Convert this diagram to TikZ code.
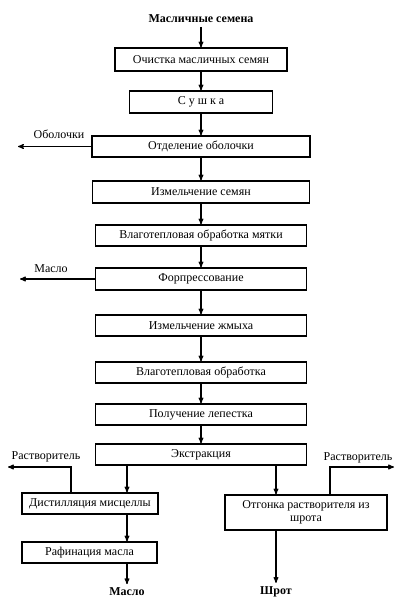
\documentclass[tikz,border=0pt]{standalone}
\usepackage{fontspec}
\setmainfont{Liberation Serif}
\usetikzlibrary{arrows}
\newcommand\W{211pt}

\begin{document}
\begin{tikzpicture}[x=1pt,y=-1pt,->,>=stealth',line width=1.1pt,
                    font=\fontsize{12}{13}\selectfont]

  \tikzstyle{procbox}=[rectangle,draw,-,align=center,inner sep=2pt,
                       minimum width=\W,minimum height=21pt]
  \tikzstyle{endlabel}=[font=\fontsize{12}{13}\selectfont\bfseries]

  \useasboundingbox (0,0) rectangle (409,600);

  \node[endlabel] (seeds) at (201,19) {Масличные семена};
  \node[procbox,minimum width=172pt,minimum height=23pt] (clean) at (201,59.5) {Очистка масличных семян};
  \node[procbox,minimum width=143pt,minimum height=22pt] (dry) at (201,102) {С у ш к а};
  \node[procbox,minimum width=218pt] (hull) at (201,146.5) {Отделение оболочки};
  \node[procbox,minimum width=217pt,minimum height=22pt] (mill) at (201,192) {Измельчение семян};
  \node[procbox] (cond) at (201,235.5) {Влаготепловая обработка мятки};
  \node[procbox,minimum height=22pt] (press) at (201,279) {Форпрессование};
  \node[procbox] (cake) at (201,325.5) {Измельчение жмыха};
  \node[procbox] (cond2) at (201,372.5) {Влаготепловая обработка};
  \node[procbox] (flake) at (201,414.5) {Получение лепестка};
  \node[procbox] (extr) at (201,454.5) {Экстракция};

  \node[procbox,minimum width=136pt] (dist) at (90,503.5) {Дистилляция мисцеллы};
  \node[procbox,minimum width=135pt] (refine) at (89.5,552.5) {Рафинация масла};
  \node[procbox,minimum width=162pt,minimum height=35pt,inner sep=1pt] (strip) at (306,512.5) {Отгонка растворителя из\\шрота};

  \node[endlabel] (oil) at (127,592) {Масло};
  \node[endlabel] (meal) at (276,592) {Шрот};

  \node (hullout) at (59,134) {Оболочки};
  \node (pressoil) at (51,269) {Масло};
  \node (solvL) at (46,457) {Растворитель};
  \node (solvR) at (358,458) {Растворитель};

  \coordinate (hullend) at (18,0);
  \coordinate (oilend) at (20,0);
  \coordinate (oilx) at (127,0);
  \coordinate (mealx) at (276,0);
  \coordinate (vapL) at (71,467);
  \coordinate (vapR) at (330,467);
  \coordinate (solvLend) at (8,0);
  \coordinate (solvRend) at (394,0);

  \path
  (seeds) edge (clean)
  (clean) edge (dry)
  (dry)   edge (hull)
  (hull)  edge (mill)
  (mill)  edge (cond)
  (cond)  edge (press)
  (press) edge (cake)
  (cake)  edge (cond2)
  (cond2) edge (flake)
  (flake) edge (extr)
  ;

  \path
  (hull.west)  edge (hull.west -| hullend)
  (press.west) edge (press.west -| oilend)
  ;

  \path
  (extr.south -| oilx) edge (dist.north -| oilx)
  (dist.south -| oilx) edge (refine.north -| oilx)
  (refine.south -| oilx) edge (oil)
  (extr.south -| mealx) edge (strip.north -| mealx)
  (strip.south -| mealx) edge (meal)
  ;

  \draw (dist.north -| vapL) -- (vapL) -- (vapL -| solvLend);
  \draw (strip.north -| vapR) -- (vapR) -- (vapR -| solvRend);

\end{tikzpicture}
\end{document}
